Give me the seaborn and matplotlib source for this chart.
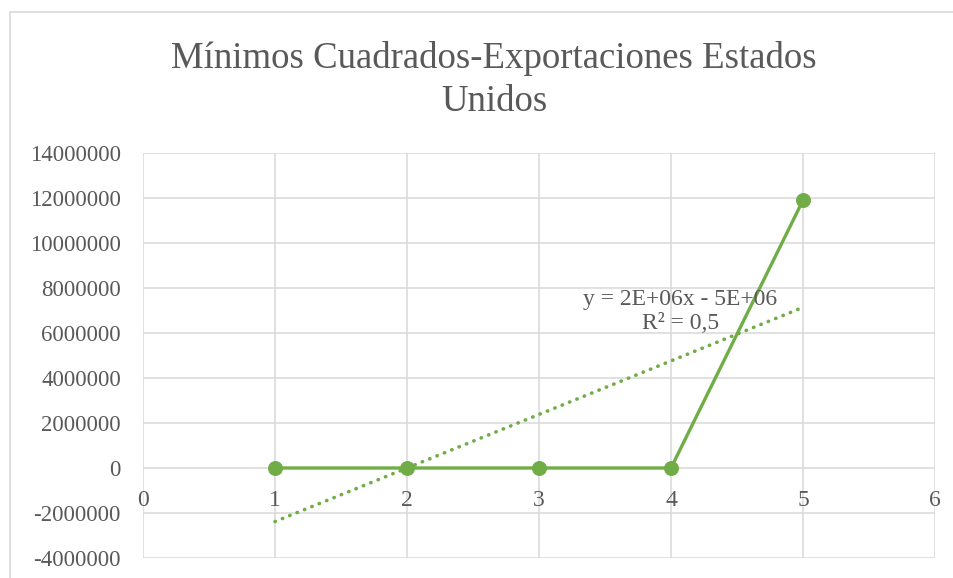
import numpy as np
import pandas as pd
import matplotlib
matplotlib.use("Agg")
import matplotlib.pyplot as plt
from matplotlib.patches import Rectangle
import seaborn as sns

# Exports to the United States by period
periodos = [1, 2, 3, 4, 5]
exportaciones = [0, 0, 0, 0, 11900000]

x_ticks = [0, 1, 2, 3, 4, 5, 6]
y_ticks = [-4000000, -2000000, 0, 2000000, 4000000, 6000000,
           8000000, 10000000, 12000000, 14000000]

titulo = "Mínimos Cuadrados-Exportaciones Estados\nUnidos"

df = pd.DataFrame({"periodo": periodos, "exportaciones": exportaciones})

sns.set_theme(style="white")
plt.rcParams["font.family"] = ["Liberation Serif", "DejaVu Serif"]

verde = "#70AD47"
gris_texto = "#595959"
gris_rejilla = "#D9D9D9"

fig = plt.figure(figsize=(9.54, 5.78), dpi=100)
ax = fig.add_axes([143 / 954, 1 - 558 / 578, (935 - 143) / 954, (558 - 153) / 578])

# Outer chart frame
fig.patches.append(Rectangle((10 / 954, -0.2), 1.2, 1 - 12 / 578 + 0.2,
                             transform=fig.transFigure, fill=False,
                             edgecolor=gris_rejilla, linewidth=1.2, zorder=0))

# Least-squares trendline
sns.regplot(data=df, x="periodo", y="exportaciones", ax=ax, ci=None,
            scatter=False, truncate=True,
            line_kws=dict(color=verde, linewidth=2.6,
                          linestyle=(0, (0.1, 2.1)),
                          dash_capstyle="round", zorder=3))

# Data series
sns.lineplot(data=df, x="periodo", y="exportaciones", ax=ax, color=verde,
             linewidth=2.4, marker="o", markersize=10,
             markeredgecolor=verde, markerfacecolor=verde, zorder=4)

pendiente, intercepto = np.polyfit(periodos, exportaciones, 1)
pred = np.polyval([pendiente, intercepto], periodos)
y_arr = np.array(exportaciones, dtype=float)
r2 = 1 - np.sum((y_arr - pred) ** 2) / np.sum((y_arr - y_arr.mean()) ** 2)

signo = "-" if intercepto < 0 else "+"
ecuacion = (f"y = {pendiente:.0E}x {signo} {abs(intercepto):.0E}\n"
            f"R² = {r2:.1f}".replace(".", ","))
ax.text(4.07, 6950000, ecuacion, ha="center", va="center",
        multialignment="center", fontsize=17, color=gris_texto,
        linespacing=1.15, zorder=5)

ax.set_xlim(0, 6)
ax.set_ylim(-4000000, 14000000)
ax.set_xticks(x_ticks)
ax.set_yticks(y_ticks)
ax.set_xticklabels([str(v) for v in x_ticks])
ax.set_yticklabels([str(v) for v in y_ticks])
ax.set_xlabel("")
ax.set_ylabel("")

ax.grid(True, color=gris_rejilla, linewidth=1.1, zorder=0)
ax.set_axisbelow(True)
for s in ax.spines.values():
    s.set_visible(False)
ax.spines["bottom"].set_position(("data", 0))

ax.tick_params(axis="x", length=0, pad=16, labelsize=17, colors=gris_texto)
ax.tick_params(axis="y", length=0, pad=16, labelsize=16.5, colors=gris_texto)

fig.text(494 / 954, 1 - 80 / 578, titulo, ha="center", va="center",
         fontsize=26.5, color=gris_texto, linespacing=1.3)

fig.savefig("out.png", dpi=100)
